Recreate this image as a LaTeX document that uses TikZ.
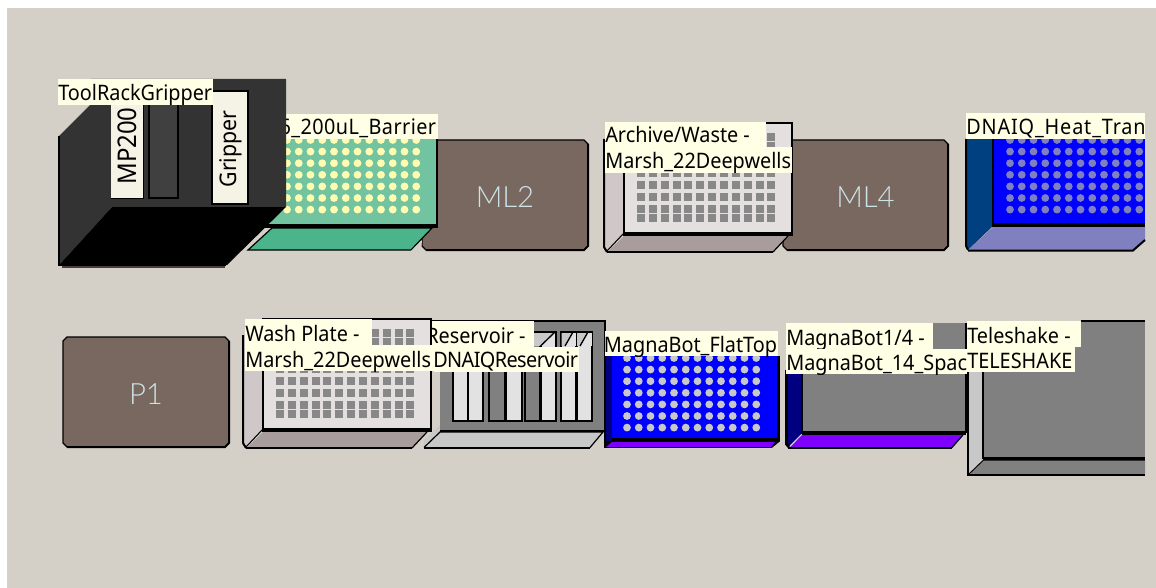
\documentclass[tikz,border=0pt]{standalone}
\usepackage{fontspec}
\setmainfont{Noto Sans}[FakeStretch=0.93]
\newfontfamily\lightf{Lato}[UprightFont=* Light]
\definecolor{bgc}{HTML}{D4D0C8}
\definecolor{tip}{HTML}{FFFFE6}
\definecolor{brownc}{HTML}{786860}
\definecolor{mlt}{HTML}{CDE4E6}
\definecolor{greenm}{HTML}{72C4A0}
\definecolor{greenb}{HTML}{4BB48A}
\definecolor{dotg}{HTML}{FFFBB0}
\definecolor{pl}{HTML}{E5E0E0}
\definecolor{pls}{HTML}{D0C8C8}
\definecolor{plb}{HTML}{A89C9C}
\definecolor{well}{HTML}{888888}
\definecolor{navy}{HTML}{000080}
\definecolor{steel}{HTML}{004080}
\definecolor{blu}{HTML}{0000FF}
\definecolor{lav}{HTML}{8080C0}
\definecolor{purp}{HTML}{8000FF}
\definecolor{gry}{HTML}{808080}
\definecolor{lgry}{HTML}{C8C8C8}
\definecolor{trough}{HTML}{E2E2E2}
\definecolor{dk}{HTML}{333333}
\definecolor{dk2}{HTML}{404040}
\definecolor{ivory}{HTML}{F5F2E6}
\tikzset{
 x=0.75pt,y=-0.75pt,
 lbltext/.style={inner sep=0pt,anchor=base west,font=\fontsize{16pt}{18pt}\selectfont,text=black},
 rot/.style={inner sep=0pt,rotate=90,text=black},
 bigt/.style={inner sep=0pt,font=\lightf\fontsize{22pt}{26pt}\selectfont,text=mlt},
 edge/.style={draw=black,line width=1.5pt},
 thin edge/.style={draw=black,line width=0.9pt}
}
% label strip: name, x1,y1,x2,y2, text
\newcommand{\strip}[6]{%
 \fill[tip] (#2,#3) rectangle (#4,#5);
 \begin{scope}\clip (#2,#3) rectangle (#4,#5);
 \node[lbltext] (#1) at (#2,#5-4) {#6};
 \end{scope}}
% machine block
\newcommand{\mlblock}[6]{%
 \draw[fill=brownc,thin edge] (#2+4,#3) -- (#4-4,#3) -- (#4,#3+4) -- (#4,#5-4) -- (#4-4,#5) -- (#2+4,#5) -- (#2,#5-4) -- (#2,#3+4) -- cycle;
 \draw[edge] (#4,#3+4) -- (#4,#5-4) -- (#4-4,#5) -- (#2+4,#5);
 \node[bigt] (#1) at ({(#2+#4)/2},{(#3+#5)/2+2}) {#6};}
% deep well plate at main-face origin (x,y)
\newcommand{\deepplate}[2]{%
 \begin{scope}[shift={(#1,#2)}]
 \fill[pls] (-20,16) -- (0,0) -- (0,110) -- (-17,128) -- (-20,124) -- cycle;
 \draw[edge] (-20,16) -- (-20,124) -- (-17,129);
 \draw[black,line width=0.8pt] (0,110) -- (-17,128);
 \fill[plb] (-16,128.5) -- (0,113) -- (164,113) -- (149,129) -- cycle;
 \draw[edge] (-17,129) -- (149,129);
 \draw[black,line width=0.9pt] (149,129) -- (164,113);
 \fill[pl] (0,0) rectangle (168,109);
 \fill[black] (0,109) rectangle (168,113);
 \draw[black,line width=1.2pt] (0,113) -- (0,0) -- (168,0) -- (168,113);
 \foreach \r in {14,23,38,50,62,74,86,95}
  \foreach \c in {0,...,11}
   \fill[well] ({13+\c*11.85},\r-4) rectangle ++(8,8);
 \end{scope}}
% dots
\newcommand{\dotgrid}[4]{%
 \foreach \r in {0,...,6}
  \foreach \c in {0,...,11}
   \fill[#4] ({#1+\c*11.75},{#2+\r*11.6}) circle (3.9);}
\begin{document}
\begin{tikzpicture}
\useasboundingbox (0,0) rectangle (1156,588);
\fill[white] (0,0) rectangle (1156,588);
\fill[bgc] (7,8) rectangle (1156,588);

% top row
\mlblock{ml2}{422}{140}{588}{250}{ML2}
% green plate
\fill[greenm] (260,139) rectangle (436,224);
\dotgrid{287}{140}{}{dotg}
\fill[black] (260,224) rectangle (437,228);
\fill[black] (436,139) rectangle (438,228);
\draw[fill=greenb,thin edge] (248,250) -- (272,228) -- (432,228) -- (411,250) -- cycle;
\fill[bgc] (411,251) -- (422,240) -- (421,251) -- cycle;
\strip{lblgreen}{246}{114}{438}{139}{\addfontfeature{LetterSpace=2}\hspace{25pt}6\_200uL\_Barrier}

% archive plate
\mlblock{ml4}{783}{140}{948}{250}{ML4}
\deepplate{624}{123}
\strip{lblarcha}{605}{122}{766}{147}{Archive/Waste -}
\strip{lblarchb}{605}{147}{792}{173}{Marsh\_22Deepwells}

% DNAIQ
\fill[steel] (966,139) -- (993,139) -- (993,226) -- (968,250) -- (966,246) -- cycle;
\draw[edge] (966,139) -- (966,246) -- (968,250);
\fill[blu] (993,139) rectangle (1145,224);
\dotgrid{1010}{140}{}{lav}
\fill[black] (993,223) rectangle (1145,227);
\draw[black,line width=1pt] (993,139) -- (993,227);
\fill[lav] (968,250) -- (993,227) -- (1145,227) -- (1145,240) -- (1133,250) -- cycle;
\draw[edge] (968,250.5) -- (1133,250.5) -- (1145,240);
\strip{lbldna}{966}{113}{1145}{139}{\addfontfeature{LetterSpace=4}DNAIQ\_Heat\_Tran}

% tool rack
\fill[dk] (59,136) -- (90,105) -- (90,79) -- (286,79) -- (286,207) -- (112,207) -- (60,264) -- (59,264) -- cycle;
\fill[black] (60,264) -- (112,207) -- (286,207) -- (227,265) -- cycle;
\draw[brownc!60!black,line width=1.6pt] (62,267) -- (225,267);
\draw[black,line width=0.8pt] (59,136) -- (59,265) -- (226,265);
\fill[ivory] (111,100) rectangle (143,198);
\draw[black,line width=0.6pt] (111,198) -- (143,198) -- (143,100);
\fill[dk2] (149,100) rectangle (178,198);
\draw[black,line width=0.8pt] (149,100) -- (149,198) -- (178,198) -- (178,100);
\fill[ivory] (212,91) rectangle (248,204);
\draw[black,line width=0.8pt] (212,91) -- (248,91) -- (248,204) -- (212,204) -- cycle;
\node[rot,font=\fontsize{19.3pt}{21pt}\selectfont] (mp) at (127,146) {MP200};
\node[rot,font=\fontsize{17.2pt}{19pt}\selectfont] (grip) at (231,149) {Gripper};
\strip{lbltool}{58}{79}{213}{105}{ToolRackGripper}

% bottom row
\mlblock{p1}{63}{337}{229}{447}{P1}

% reservoir
\fill[lgry] (424,447.5) -- (424,440) -- (440,425) -- (603,432) -- (590,447.5) -- cycle;
\draw[edge] (424,447.5) -- (590,447.5);
\draw[black,line width=0.9pt] (424,447.5) -- (440,432) -- (603,432) -- (590,447.5);
\fill[gry] (440,321) rectangle (605,430);
\draw[edge] (440,431) -- (605,431) -- (605,321) -- (431,321);
\foreach \a/\b/\cc in {453/483/trough,489/522/gry,525/556/gry,561/592/trough}{
 \fill[\cc] (\a,332) rectangle ({(\a+\b)/2},421);
 \fill[trough] ({(\a+\b)/2},332) rectangle (\b,421);
 \fill[lgry] (\a,332) -- (\b-1,332) -- ({(\a+\b)/2},346) -- (\a,346) -- cycle;
 \draw[black,line width=1pt] (\a,332) rectangle (\b,421);
 \draw[black,line width=1.6pt] ({(\a+\b)/2},346) -- ({(\a+\b)/2},421);
 \draw[black,line width=1pt] (\b-1,332) -- ({(\a+\b)/2},346);
}
% the last trough has its two halves separated up to the top edge
\fill[trough] (561.5,333) rectangle (576,346);
\fill[lgry] (561.5,333) -- (573,333) -- (565,346) -- (561.5,346) -- cycle;
\fill[trough] (577,333) rectangle (591.5,346);
\fill[lgry] (577,333) -- (588,333) -- (580,346) -- (577,346) -- cycle;
\draw[black,line width=1pt] (573,332) -- (565,346);
\draw[black,line width=1pt] (588,332) -- (580,346);
\draw[black,line width=1.4pt] (576.5,332) -- (576.5,346);
\strip{lblresa}{426}{321}{534}{347}{Reservoir -}

% wash plate
\deepplate{263}{319}
\strip{lblwasha}{245}{319}{372}{345}{Wash Plate -}
\strip{lblwashb}{245}{345}{434}{371}{Marsh\_22Deepwells}
\fill[tip] (434,347) rectangle (579,372);
\node[lbltext] (lblresb) at (433,367) {\addfontfeature{LetterSpace=-2.7}DNAIQReservoir};

% magnabot flat top
\fill[black] (604,356) rectangle (780,447.5);
\fill[navy] (606,356) rectangle (612,441);
\fill[blu] (612,356) rectangle (777,438);
\dotgrid{627}{358}{}{lgry}
\fill[purp] (606,447) -- (612,442) -- (775,442) -- (771,447) -- cycle;
\fill[bgc] (772,448) -- (780,441.5) -- (780,448) -- cycle;
\strip{lblmft}{605}{331}{778}{356}{\hspace{-1pt}MagnaBot\_FlatTop}

% magnabot 1/4
\fill[navy] (786,370) -- (802,370) -- (802,433) -- (789,446) -- (786,444) -- cycle;
\draw[black,line width=2.2pt] (786.5,370) -- (786.5,444) -- (789,447);
\fill[gry] (802,323) rectangle (966,431);
\fill[black] (802,431) rectangle (966,434.5);
\draw[black,line width=1pt] (802,370) -- (802,434);
\draw[black,line width=1pt] (966,323) -- (966,433);
\fill[purp] (790,447.5) -- (802,435) -- (963,435) -- (952,447.5) -- cycle;
\draw[edge] (788,447.5) -- (952,447.5);
\draw[black,line width=0.9pt] (952,447.5) -- (963,435);
\strip{lblmba}{786}{323}{933}{349}{MagnaBot1/4 -}
\strip{lblmbb}{786}{349}{967}{374}{MagnaBot\_14\_Spac}

% teleshake
\fill[gry] (983,321) rectangle (1145,457);
\draw[edge] (1081,321) -- (1145,321);
\fill[lgry] (968,370) rectangle (983,460);
\fill[lgry] (968,460) -- (983,460) -- (969,474) -- cycle;
\draw[edge] (967.5,370) -- (967.5,475);
\draw[black,line width=0.8pt] (983,370) -- (983,459);
\fill[black] (983,457) rectangle (1145,460.5);
\fill[gry] (969,474) -- (983,460.5) -- (1145,460.5) -- (1145,474) -- cycle;
\draw[black,line width=0.7pt] (969,474) -- (983,460.5);
\draw[black,line width=1.1pt] (967,475) -- (1145,475);
\strip{lbltsa}{967}{321}{1081}{347}{Teleshake -}
\strip{lbltsb}{967}{347}{1075}{372}{TELESHAKE}
\end{tikzpicture}
\end{document}
